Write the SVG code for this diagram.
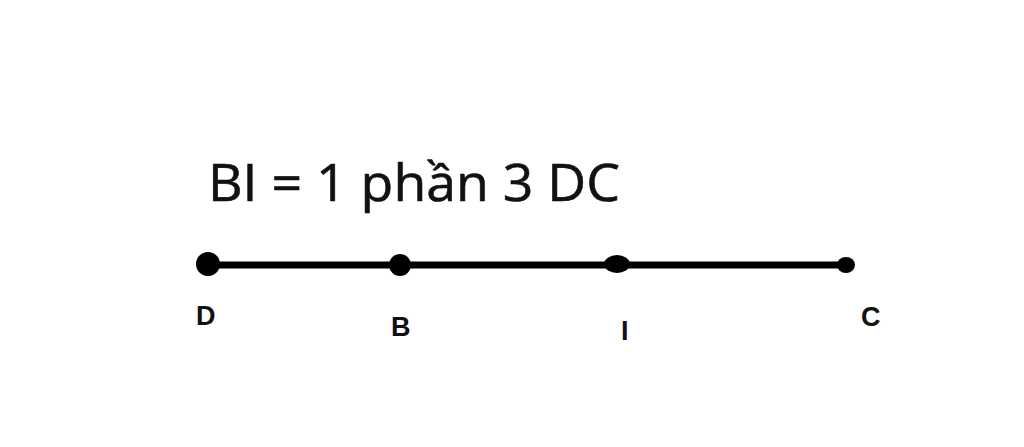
<svg xmlns="http://www.w3.org/2000/svg" width="1024" height="447" viewBox="0 0 1024 447">
<style>
.title{font-family:"Open Sans","Liberation Sans",sans-serif;font-size:52px;fill:#111;stroke:#111;stroke-width:0.6}
.lbl{font-family:"Liberation Sans",Arial,sans-serif;font-weight:bold;font-size:27px;fill:#111}
.pt{fill:#000}
</style>
<rect width="1024" height="447" fill="#fff"/>
<text class="title" x="208" y="201" textLength="412" lengthAdjust="spacingAndGlyphs">BI = 1 phần 3 DC</text>
<g id="connectors">
<line x1="200" y1="265" x2="852" y2="265" stroke="#000" stroke-width="7"/>
</g>
<g id="D"><circle class="pt" cx="208" cy="264" r="12"/><text class="lbl" x="196" y="325">D</text></g>
<g id="B"><circle class="pt" cx="400" cy="265" r="11"/><text class="lbl" x="391" y="336">B</text></g>
<g id="I"><ellipse class="pt" cx="617" cy="264" rx="13" ry="9"/><text class="lbl" x="621" y="340">I</text></g>
<g id="C"><ellipse class="pt" cx="846" cy="265" rx="9" ry="8"/><text class="lbl" x="861" y="326">C</text></g>
</svg>
